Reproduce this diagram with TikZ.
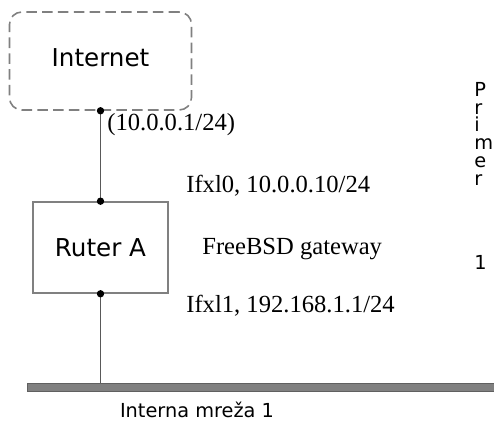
\documentclass[tikz,border=0pt]{standalone}
\usepackage{fontspec}
\setmainfont{Liberation Serif}
\newfontfamily\dejavu{DejaVu Sans}
\usetikzlibrary{positioning}

\begin{document}
\begin{tikzpicture}[x=0.02cm, y=-0.02cm,
    dot/.style={circle, fill=black, inner sep=0pt, minimum size=4.2pt},
    wire/.style={draw=gray!70!black, line width=0.6pt},
    box/.style={draw=gray, line width=0.9pt, font=\dejavu\fontsize{14}{16}\selectfont},
    adr/.style={anchor=west, inner sep=0pt, font=\fontsize{14}{16}\selectfont}]
    \useasboundingbox (0,0) rectangle (494,421);

    % Internet
    \node[box, dash pattern=on 6pt off 3pt, rounded corners=7pt,
          minimum width=3.64cm, minimum height=1.96cm, text depth=4.5pt] (inet) at (100.5,61) {Internet};

    % ruter
    \node[box, minimum width=2.7cm, minimum height=1.82cm] (ruter) at (100.5,247.5) {Ruter A};

    % mreza
    \node[draw=gray!75!black, fill=gray, line width=0.5pt, inner sep=0pt,
          minimum width=9.34cm, minimum height=0.16cm] (bus) at (260.5,387) {};
    \node[font=\dejavu\fontsize{11}{13}\selectfont] (mreza) at (197,410) {Interna mreža 1};

    % veze
    \draw[wire] (inet.south) -- (ruter.north);
    \draw[wire] (ruter.south) -- (ruter.south |- bus.north);
    \node[dot] (p1) at (inet.south) {};
    \node[dot] (p2) at (ruter.north) {};
    \node[dot] (p3) at (ruter.south) {};

    % adrese
    \node[adr] (a1) at (107,125) {(10.0.0.1/24)};
    \node[adr] (a2) at (186,186) {Ifxl0, 10.0.0.10/24};
    \node[adr] (gw) at (202,249.5) {FreeBSD gateway};
    \node[adr] (a3) at (186,306) {Ifxl1, 192.168.1.1/24};

    % naslov
    \node[anchor=north west, inner sep=0pt, align=left,
          font=\dejavu\fontsize{11}{10.1}\selectfont] (primer) at (474,82)
          {P\\r\\i\\m\\e\\r\\[38pt]1};
\end{tikzpicture}
\end{document}
